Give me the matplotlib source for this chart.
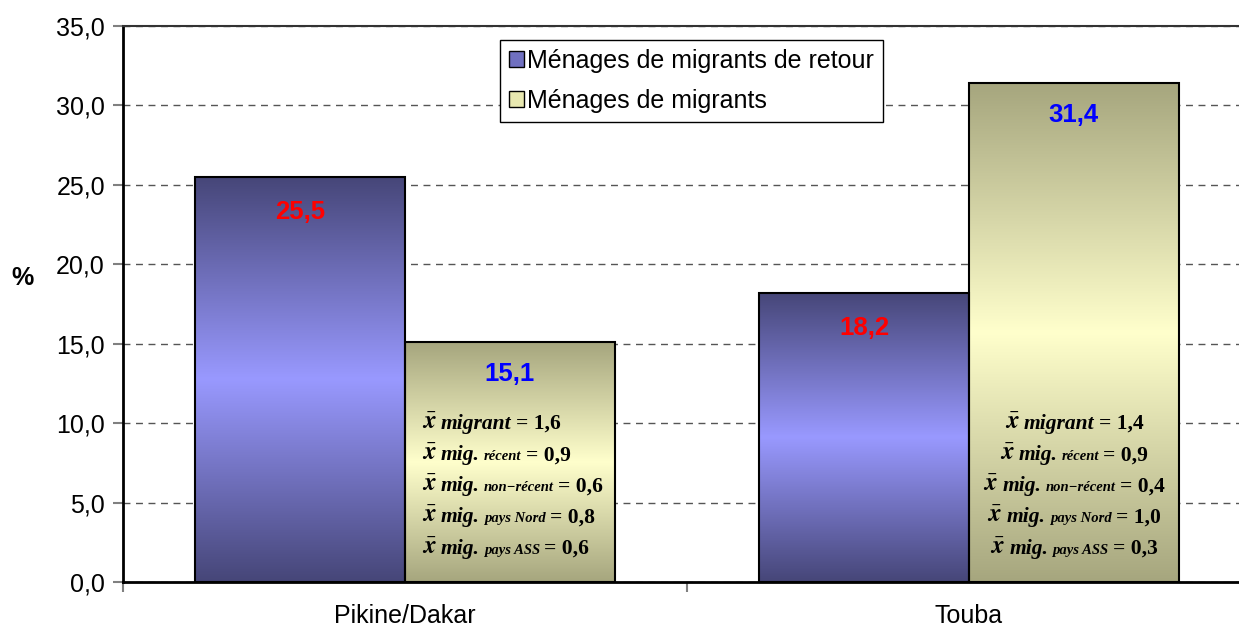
import numpy as np
import matplotlib.pyplot as plt
from matplotlib.colors import LinearSegmentedColormap
from matplotlib.patches import Patch
from matplotlib.offsetbox import TextArea, HPacker, AnnotationBbox

# --- data ---
categories = ['Pikine/Dakar', 'Touba']
retour = [25.5, 18.2]
migrants = [15.1, 31.4]
series_names = ['Ménages de migrants de retour', 'Ménages de migrants']

moy_labels = ['migrant', 'récent', 'non\u2212récent', 'pays Nord', 'pays ASS']
moy_pikine = [1.6, 0.9, 0.6, 0.8, 0.6]
moy_touba = [1.4, 0.9, 0.4, 1.0, 0.3]

yticks = [0, 5, 10, 15, 20, 25, 30, 35]


def fr(v):
    return f'{v:.1f}'.replace('.', ',')


# --- gradient colormaps (dark - light - dark) ---
cmap_blue = LinearSegmentedColormap.from_list('b', ['#464678', '#9999FF', '#464678'])
cmap_olive = LinearSegmentedColormap.from_list('o', ['#A6A67E', '#FFFFCC', '#A6A67E'])

fig = plt.figure(figsize=(12.39, 6.30), dpi=100)
ax = fig.add_axes([123 / 1239, 1 - 582 / 630, 1128 / 1239, (582 - 26) / 630])

x = np.arange(len(categories))
w = 0.372
grad = np.linspace(1, 0, 256).reshape(-1, 1)

for vals, cmap, off in [(retour, cmap_blue, -w / 2), (migrants, cmap_olive, w / 2)]:
    bars = ax.bar(x + off, vals, w, facecolor='none', edgecolor='black', linewidth=1.5, zorder=3)
    for b in bars:
        x0, y0 = b.get_x(), b.get_y()
        ax.imshow(grad, cmap=cmap, aspect='auto', zorder=2, interpolation='bilinear',
                  extent=[x0, x0 + b.get_width(), y0, y0 + b.get_height()])

# value labels
for i in range(len(categories)):
    ax.annotate(fr(retour[i]), (x[i] - w / 2, retour[i]), xytext=(0, -25), textcoords='offset points',
                ha='center', va='center', color='#FF0000', fontsize=18.5, fontweight='bold',
                family='Liberation Sans', zorder=5)
    ax.annotate(fr(migrants[i]), (x[i] + w / 2, migrants[i]), xytext=(0, -23), textcoords='offset points',
                ha='center', va='center', color='#0000FF', fontsize=18.5, fontweight='bold',
                family='Liberation Sans', zorder=5)

# mean annotations
big = dict(fontsize=15.5, family='Liberation Serif', fontweight='bold', style='italic')
small = dict(fontsize=10.5, family='Liberation Serif', fontweight='bold', style='italic')
num = dict(fontsize=15.5, family='Liberation Serif', fontweight='bold')
xbar = dict(fontsize=18, math_fontfamily='stix')


def mean_line(lbl, val, first):
    parts = [TextArea(r'$\bar{\mathbfit{x}}$', textprops=xbar)]
    if first:
        parts.append(TextArea(lbl, textprops=big))
    else:
        parts.append(TextArea('mig.', textprops=big))
        parts.append(TextArea(lbl, textprops=small))
    parts.append(TextArea('= ' + fr(val), textprops=num))
    return HPacker(children=parts, sep=3, pad=0, align='baseline')


for i, (vals, balign, xpos) in enumerate([(moy_pikine, (0, 0.5), x[0] + 0.03),
                                          (moy_touba, (0.5, 0.5), x[1] + w / 2)]):
    for k, (lbl, v) in enumerate(zip(moy_labels, vals)):
        box = mean_line(lbl, v, k == 0)
        ab = AnnotationBbox(box, (xpos, 10.07 - k * 1.96), xycoords='data', box_alignment=balign,
                            frameon=False, pad=0, zorder=6)
        ax.add_artist(ab)

# axes styling
ax.set_xlim(-0.5, 1.5)
ax.set_ylim(0, 35)
ax.set_yticks(yticks)
ax.set_yticklabels([fr(t) for t in yticks], fontsize=18, family='Liberation Sans')
ax.set_xticks([-0.5, 0.5, 1.5])
ax.set_xticklabels([])
ax.set_xticks(x, minor=True)
ax.set_xticklabels(categories, minor=True, fontsize=18, family='Liberation Sans')
ax.tick_params(axis='x', which='minor', length=0, pad=16)
ax.tick_params(axis='x', which='major', length=7, color='#808080', width=1.5)
ax.tick_params(axis='y', length=7, color='#808080', width=1.5, pad=6)
ax.yaxis.grid(True, linestyle=(0, (5, 4)), color='#555555', linewidth=1, zorder=0)
ax.set_axisbelow(True)
for s in ['left', 'bottom']:
    ax.spines[s].set_linewidth(2)
ax.spines['top'].set_linewidth(1.5)
ax.spines['top'].set_color('#333333')
ax.spines['right'].set_visible(False)

ax.set_ylabel('%', rotation=0, fontsize=18, fontweight='bold', family='Liberation Sans',
              ha='center', va='center')
ax.yaxis.set_label_coords((22 - 123) / 1128, (582 - 278) / 556)

handles = [Patch(facecolor='#7070C0', edgecolor='black', label=series_names[0]),
           Patch(facecolor='#E8E8B0', edgecolor='black', label=series_names[1])]
leg = ax.legend(handles=handles, loc='upper left', bbox_to_anchor=((500 - 123) / 1128, 1 - (40 - 26) / 556),
                prop={'family': 'Liberation Sans', 'size': 18}, fancybox=False, framealpha=1,
                edgecolor='black', handlelength=0.6, handleheight=0.6, handletextpad=0.15,
                labelspacing=0.65, borderpad=0.35, borderaxespad=0)
leg.get_frame().set_linewidth(1)
leg.set_zorder(7)

fig.savefig('out.png', dpi=100)
